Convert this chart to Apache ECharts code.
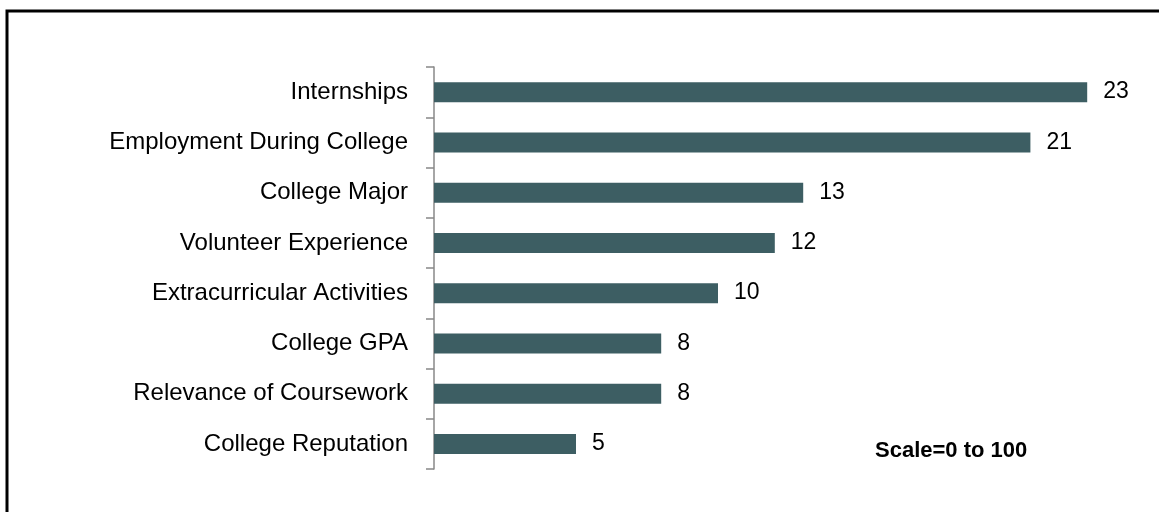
<!DOCTYPE html>
<html>
<head>
<meta charset="utf-8">
<script src="https://cdn.jsdelivr.net/npm/echarts@6/dist/echarts.min.js"></script>
<style>html,body{margin:0;padding:0;background:#fff}#c{width:1159px;height:512px}</style>
</head>
<body>
<div id="c"></div>
<script>
var categories = ["Internships","Employment During College","College Major","Volunteer Experience","Extracurricular Activities","College GPA","Relevance of Coursework","College Reputation"];
var values = [23,21,13,12,10,8,8,5];
var noteText = "Scale=0 to 100";

var chart = echarts.init(document.getElementById('c'));
chart.setOption({
  backgroundColor: '#ffffff',
  animation: false,
  grid: {left: 434, right: 15, top: 67, bottom: 43},
  xAxis: {type: 'value', min: 0, max: 25, show: false},
  yAxis: {
    type: 'category', data: categories, inverse: true,
    axisLine: {show: true, lineStyle: {color: '#888888', width: 1.5}},
    axisTick: {show: true, interval: 0, alignWithLabel: false, length: 8, lineStyle: {color: '#888888', width: 1.5}},
    axisLabel: {margin: 26, color: '#000', fontFamily: 'Liberation Sans', fontSize: 24}
  },
  series: [{
    type: 'bar', data: values, barWidth: 20,
    itemStyle: {color: '#3d5e63'},
    label: {show: true, position: 'right', distance: 16, color: '#000', fontFamily: 'Liberation Sans', fontSize: 23}
  }],
  graphic: [
    {type: 'rect', shape: {x: 7, y: 11, width: 1170, height: 520}, style: {fill: 'none', stroke: '#000', lineWidth: 3}, silent: true},
    {type: 'text', left: 875, top: 440, style: {text: noteText, font: 'bold 22px "Liberation Sans"', fill: '#000'}}
  ]
});
</script>
</body>
</html>
